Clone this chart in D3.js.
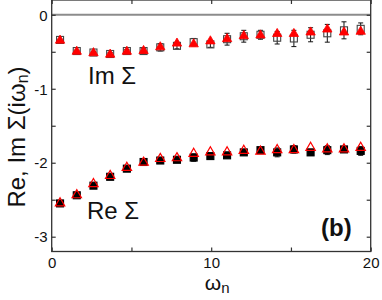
<html>
<head>
<meta charset="utf-8">
<style>
  body { margin: 0; background: #fff; }
  text { font-family: "Liberation Sans", Arial, sans-serif; }
</style>
</head>
<body>

<svg id="chart"></svg>

<script src="https://cdn.jsdelivr.net/npm/d3@7/dist/d3.min.js"></script>
<script>
// Matsubara frequencies
var omega = [0.524, 1.571, 2.618, 3.665, 4.712, 5.760, 6.807, 7.854, 8.901, 9.948,
             10.996, 12.043, 13.090, 14.137, 15.184, 16.232, 17.279, 18.326, 19.373];

// Im Sigma: squares with error bars (black, open), triangles (red, filled)
var imSq  = [-0.34, -0.49, -0.51, -0.53, -0.49, -0.49, -0.44, -0.42, -0.37, -0.40,
             -0.33, -0.29, -0.27, -0.31, -0.32, -0.27, -0.25, -0.21, -0.19];
var imErr = [0.01, 0.01, 0.015, 0.02, 0.02, 0.03, 0.05, 0.04, 0.05, 0.04,
             0.08, 0.08, 0.06, 0.085, 0.11, 0.095, 0.12, 0.115, 0.08];
var imTri = [-0.34, -0.49, -0.51, -0.53, -0.49, -0.48, -0.43, -0.38, -0.39, -0.35,
             -0.32, -0.28, -0.27, -0.25, -0.25, -0.23, -0.19, -0.23, -0.22];

// Re Sigma: squares with error bars (black, filled), triangles (red, open)
var reSq  = [-2.55, -2.44, -2.31, -2.19, -2.08, -1.99, -1.97, -1.96, -1.93, -1.91,
             -1.90, -1.86, -1.83, -1.86, -1.82, -1.86, -1.83, -1.82, -1.84];
var reErr = [0.01, 0.01, 0.02, 0.02, 0.03, 0.04, 0.04, 0.03, 0.05, 0.03,
             0.03, 0.03, 0.03, 0.06, 0.05, 0.04, 0.06, 0.04, 0.06];
var reTri = [-2.54, -2.43, -2.28, -2.17, -2.06, -1.99, -1.94, -1.93, -1.87, -1.85,
             -1.85, -1.83, -1.84, -1.82, -1.82, -1.79, -1.81, -1.81, -1.79];

var xTicks = [0, 5, 10, 15, 20], xLabels = [0, 10, 20];
var yTicks = [-3, -2.5, -2, -1.5, -1, -0.5, 0], yLabels = [-3, -2, -1, 0];

var W = 382, H = 300;
var svg = d3.select("svg#chart").attr("width", W).attr("height", H);

var x = d3.scaleLinear().domain([0, 20]).range([51.7, 370.7]);
var y = d3.scaleLinear().domain([-3.2, 0.2]).range([251.5, 0]);

var axisColor = "#333";

// zero line
svg.append("line")
    .attr("x1", x(0)).attr("x2", x(20))
    .attr("y1", y(0)).attr("y2", y(0))
    .attr("stroke", "#8c8c8c").attr("stroke-width", 2);

function fmt(list) {
    return function(d) {
        if (list.indexOf(d) < 0) return "";
        return d < 0 ? "-" + Math.abs(d) : String(d);
    };
}

// axes with inward ticks
var gx = svg.append("g")
    .attr("transform", "translate(0," + y(-3.2) + ")")
    .call(d3.axisBottom(x).tickValues(xTicks).tickSizeInner(-4).tickSizeOuter(0)
        .tickPadding(6).tickFormat(fmt(xLabels)));
var gxt = svg.append("g")
    .attr("transform", "translate(0," + y(0.2) + ")")
    .call(d3.axisTop(x).tickValues(xTicks).tickSizeInner(-4).tickSizeOuter(0).tickFormat(""));
var gy = svg.append("g")
    .attr("transform", "translate(" + x(0) + ",0)")
    .call(d3.axisLeft(y).tickValues(yTicks).tickSizeInner(-4).tickSizeOuter(0)
        .tickPadding(4).tickFormat(fmt(yLabels)));
var gyr = svg.append("g")
    .attr("transform", "translate(" + x(20) + ",0)")
    .call(d3.axisRight(y).tickValues(yTicks).tickSizeInner(-4).tickSizeOuter(0).tickFormat(""));

[gx, gxt, gy, gyr].forEach(function(g) {
    g.select(".domain").remove();
    g.selectAll(".tick line").attr("stroke", axisColor).attr("stroke-width", 1.2);
    g.selectAll(".tick text")
        .attr("fill", "#111")
        .style("font-family", "'Liberation Sans', Arial, sans-serif")
        .style("font-size", "15px");
});
gy.selectAll(".tick text").attr("dy", "0.35em");

// frame
svg.append("rect")
    .attr("x", x(0)).attr("y", y(0.2))
    .attr("width", x(20) - x(0)).attr("height", y(-3.2) - y(0.2))
    .attr("fill", "none").attr("stroke", axisColor).attr("stroke-width", 1.3);

// error bars + squares
function drawSquares(vals, errs, filled) {
    var g = svg.append("g");
    var cap = 2.5;
    omega.forEach(function(w, i) {
        var cx = x(w), lo = y(vals[i] - errs[i]), hi = y(vals[i] + errs[i]);
        g.append("line").attr("x1", cx).attr("x2", cx).attr("y1", lo).attr("y2", hi)
            .attr("stroke", "#111").attr("stroke-width", 1);
        g.append("line").attr("x1", cx - cap).attr("x2", cx + cap).attr("y1", lo).attr("y2", lo)
            .attr("stroke", "#111").attr("stroke-width", 1);
        g.append("line").attr("x1", cx - cap).attr("x2", cx + cap).attr("y1", hi).attr("y2", hi)
            .attr("stroke", "#111").attr("stroke-width", 1);
        g.append("rect")
            .attr("x", cx - 3.5).attr("y", y(vals[i]) - 3.5)
            .attr("width", 7).attr("height", 7)
            .attr("fill", filled ? "#000" : "none")
            .attr("stroke", filled ? "#000" : "#444").attr("stroke-width", 1.1);
    });
}

function drawTriangles(vals, filled) {
    var tri = d3.symbol().type(d3.symbolTriangle).size(38);
    svg.append("g").selectAll("path")
        .data(vals)
        .enter().append("path")
        .attr("d", tri)
        .attr("transform", function(d, i) { return "translate(" + x(omega[i]) + "," + (y(d) + 0.5) + ")"; })
        .attr("fill", filled ? "#ff0000" : "none")
        .attr("stroke", "#ff0000")
        .attr("stroke-width", filled ? 0.8 : 1.2);
}

drawSquares(imSq, imErr, false);
drawTriangles(imTri, true);
drawSquares(reSq, reErr, true);
drawTriangles(reTri, false);

// annotations
svg.append("text").attr("x", 88).attr("y", 83.5)
    .style("font-size", "24px").attr("fill", "#111").text("Im \u03A3");
svg.append("text").attr("x", 87).attr("y", 219)
    .style("font-size", "24px").attr("fill", "#111").text("Re \u03A3");
svg.append("text").attr("x", 321).attr("y", 236)
    .style("font-size", "24px").style("font-weight", "bold").attr("fill", "#111").text("(b)");

// axis labels
var xl = svg.append("text")
    .attr("x", x(10) + 6).attr("y", 290)
    .attr("text-anchor", "middle")
    .style("font-size", "21px").attr("fill", "#111");
xl.append("tspan").text("\u03C9");
xl.append("tspan").attr("dy", 3).style("font-size", "15px").text("n");

var yl = svg.append("text")
    .attr("transform", "translate(25," + 137 + ") rotate(-90)")
    .attr("text-anchor", "middle")
    .style("font-size", "24px").attr("fill", "#111");
yl.append("tspan").text("Re, Im \u03A3(i\u03C9");
yl.append("tspan").attr("dy", 3).style("font-size", "16px").text("n");
yl.append("tspan").attr("dy", -3).text(")");
</script>
</body>
</html>
